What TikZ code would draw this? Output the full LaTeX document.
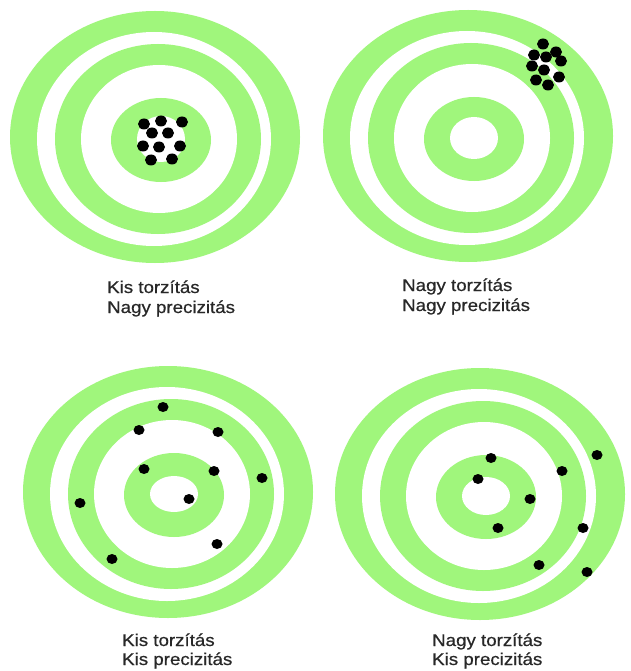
\documentclass[tikz,border=0pt]{standalone}
\usepackage{fontspec}
\setmainfont{Liberation Sans}
\newfontfamily\lblfont[FakeBold=0.5]{Liberation Sans}
\definecolor{tgreen}{RGB}{160,246,124}
\definecolor{txt}{RGB}{40,40,40}
\newcommand\mytarget[3]{%
  \begin{scope}[shift={(#1,#2)}]
    \fill[tgreen] (-6,-3) ellipse [x radius=145, y radius=126];
    \fill[white] (-7,-1) ellipse [x radius=117, y radius=107];
    \fill[tgreen] (-3,-1) ellipse [x radius=103, y radius=95];
    \fill[white] (-2,-1) ellipse [x radius=78, y radius=74];
    \fill[tgreen] (0,0) ellipse [x radius=50, y radius=42];
    \fill[white] (0,-1) ellipse [x radius=24, y radius=#3];
  \end{scope}}
\newcommand\mylabel[4]{% name, x, baseline y, text
  \node[lbl] (#1) at (#2,#3) {\scalebox{1.1}[1]{#4}};}
\begin{document}
\begin{tikzpicture}[x=1pt,y=-1pt,
  lbl/.style={anchor=base west,inner sep=0pt,font=\lblfont\fontsize{17}{20}\selectfont,text=txt},
  dot/.style={fill=black}]
\useasboundingbox[fill=white] (0,0) rectangle (630,671);
% targets
\mytarget{161}{140}{23}
\mytarget{474}{139}{21}
\mytarget{174}{495}{18}
\mytarget{486}{497}{19}
% dots: top-left
\foreach \x/\y in {144/124,161/121,182/122,152/133,168/133,143/146,159/147,180/146,151/160,172/159}
  \fill[dot] (\x,\y) ellipse [x radius=6, y radius=5.5];
% dots: top-right
\foreach \x/\y in {543/44,534/55,546/57,556/52,561/61,532/66,544/70,536/80,559/77,548/85}
  \fill[dot] (\x,\y) ellipse [x radius=6, y radius=5.5];
% dots: bottom-left
\foreach \x/\y in {163/407,139/430,218/432,144/469,214/471,262/478,80/503,189/499,217/544,112/559}
  \fill[dot] (\x,\y) ellipse [x radius=5.5, y radius=5];
% dots: bottom-right
\foreach \x/\y in {491/458,597/455,562/471,478/479,530/499,583/528,498/528,539/565,587/572}
  \fill[dot] (\x,\y) ellipse [x radius=5.5, y radius=5];
% labels
\mylabel{tla}{107}{293}{Kis torzítás}
\mylabel{tlb}{107}{313}{Nagy precizitás}
\mylabel{tra}{402}{291}{Nagy torzítás}
\mylabel{trb}{402}{311}{Nagy precizitás}
\mylabel{bla}{122}{646}{Kis torzítás}
\mylabel{blb}{122}{665}{Kis precizitás}
\mylabel{bra}{432}{646}{Nagy torzítás}
\mylabel{brb}{432}{665}{Kis precizitás}
\end{tikzpicture}
\end{document}
